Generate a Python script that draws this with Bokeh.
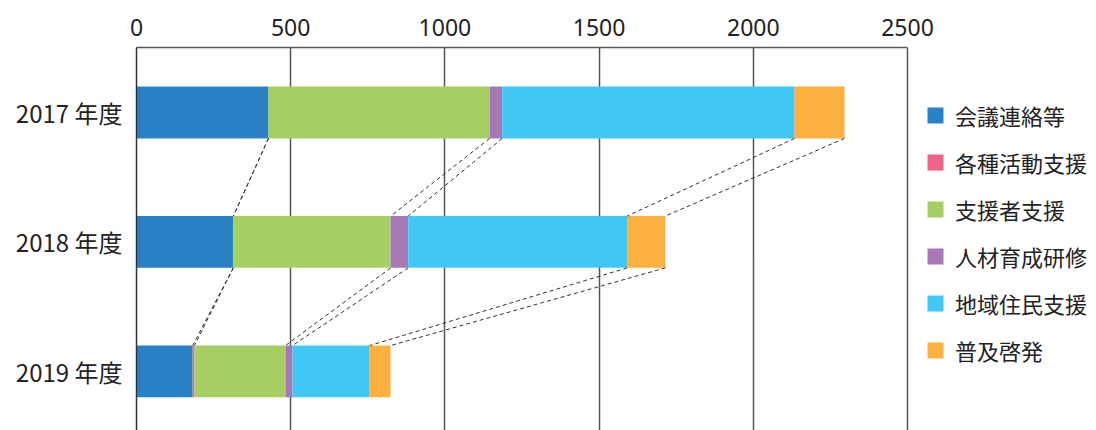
import numpy as np
from bokeh.plotting import figure
from bokeh.models import ColumnDataSource, Range1d, FixedTicker, Legend, LegendItem
from bokeh.embed import file_html
from bokeh.resources import INLINE

years = ["2017 年度", "2018 年度", "2019 年度"]
series = ["会議連絡等", "各種活動支援", "支援者支援", "人材育成研修", "地域住民支援", "普及啓発"]
kaigi = [428, 314, 182]
kakushu = [0, 0, 6]
shiensha = [717, 510, 295]
jinzai = [41, 57, 23]
chiiki = [948, 710, 250]
fukyu = [162, 124, 68]
colors = ["#2a82c6", "#f0648c", "#a5cf63", "#a878b4", "#40c7f3", "#fcb040"]
x_ticks = [0, 500, 1000, 1500, 2000, 2500]

keys = ["s0", "s1", "s2", "s3", "s4", "s5"]
vals = [kaigi, kakushu, shiensha, jinzai, chiiki, fukyu]
ypos = [len(years) - i for i in range(len(years))]
data = {"y": ypos}
for k, v in zip(keys, vals):
    data[k] = v
src = ColumnDataSource(data)

BAR_H = 0.4
AXIS_MAX = 2500
FRAME_W = 960          # frame spans to the right edge so the legend fits inside
PLOT_W = 771           # width of the 0..2500 scale
x_end = AXIS_MAX * FRAME_W / PLOT_W

p = figure(frame_width=FRAME_W, frame_height=383, output_backend="svg", toolbar_location=None,
           x_range=Range1d(0, x_end), y_range=Range1d(0.544, 3.502),
           x_axis_location="above", min_border_left=136, min_border_right=0,
           min_border_top=47, min_border_bottom=0)
p.outline_line_color = None
p.background_fill_color = "white"
p.border_fill_color = "white"

# grid
p.xgrid.ticker = FixedTicker(ticks=x_ticks)
p.xgrid.grid_line_color = "#555555"
p.xgrid.grid_line_width = 1.5
p.ygrid.grid_line_color = None

# axes
xa = p.xaxis[0]
xa.ticker = FixedTicker(ticks=x_ticks)
xa.bounds = (0, AXIS_MAX)
xa.major_tick_in = 0
xa.major_tick_out = 0
xa.minor_tick_in = 0
xa.minor_tick_out = 0
xa.axis_line_color = "#555555"
xa.axis_line_width = 1.5
xa.major_label_text_font = "Noto Sans"
xa.major_label_text_font_size = "23px"
xa.major_label_text_color = "#222222"
xa.major_label_standoff = 12

ya = p.yaxis[0]
ya.ticker = FixedTicker(ticks=ypos)
ya.major_label_overrides = {y: lab for y, lab in zip(ypos, years)}
ya.major_tick_in = 0
ya.major_tick_out = 0
ya.minor_tick_in = 0
ya.minor_tick_out = 0
ya.axis_line_color = "#333333"
ya.axis_line_width = 1.5
ya.major_label_text_font = "Noto Sans CJK JP"
ya.major_label_text_font_size = "24px"
ya.major_label_text_color = "#222222"
ya.major_label_standoff = 14

# bars
rs = p.hbar_stack(keys, y="y", height=BAR_H, fill_color=colors, line_color=None, source=src)

# connector lines between stacked boundaries
arr = np.array(vals)  # series x years
cum = np.cumsum(arr, axis=0)
x0, y0, x1, y1 = [], [], [], []
for i in range(len(years) - 1):
    for k in range(len(series)):
        x0.append(cum[k, i]); y0.append(ypos[i] - BAR_H / 2)
        x1.append(cum[k, i + 1]); y1.append(ypos[i + 1] + BAR_H / 2)
p.segment(x0=x0, y0=y0, x1=x1, y1=y1, line_color="#333333", line_width=1, line_dash="4 3")

legend = Legend(items=[LegendItem(label=s, renderers=[r]) for s, r in zip(series, rs)],
                location=(789, 64))
legend.glyph_width = 20
legend.glyph_height = 20
legend.label_height = 20
legend.spacing = 15
legend.padding = 0
legend.margin = 0
legend.label_standoff = 10
legend.label_text_font = "Noto Sans CJK JP"
legend.label_text_font_size = "22px"
legend.label_text_color = "#222222"
legend.border_line_color = None
legend.background_fill_alpha = 0
p.add_layout(legend, "center")

open("out.html", "w").write(file_html(p, INLINE))
